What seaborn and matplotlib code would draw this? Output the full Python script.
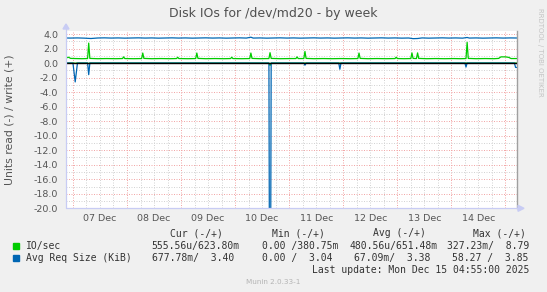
import matplotlib
matplotlib.use("Agg")
import matplotlib.pyplot as plt
from matplotlib.patches import Polygon, Rectangle
from matplotlib.lines import Line2D
import pandas as pd
import seaborn as sns

# ---------------- data ----------------
title = "Disk IOs for /dev/md20 - by week"
y_label = "Units read (-) / write (+)"
y_ticks = [4.0, 2.0, 0.0, -2.0, -4.0, -6.0, -8.0, -10.0, -12.0, -14.0,
           -16.0, -18.0, -20.0]
day_labels = ["07 Dec", "08 Dec", "09 Dec", "10 Dec", "11 Dec", "12 Dec",
              "13 Dec", "14 Dec"]
day_centers = ["2025-12-07 12:00", "2025-12-08 12:00", "2025-12-09 12:00",
               "2025-12-10 12:00", "2025-12-11 12:00", "2025-12-12 12:00",
               "2025-12-13 12:00", "2025-12-14 12:00"]
x_start = "2025-12-06 20:55"
x_end = "2025-12-15 04:55"

# IO/sec, write (+)
io_w_t = ["12-06 20:55", "12-06 22:00", "12-06 23:00", "12-07 01:00", "12-07 04:00",
          "12-07 06:30", "12-07 07:00", "12-07 07:30", "12-07 11:00", "12-07 15:00",
          "12-07 19:00", "12-07 22:00", "12-07 22:30", "12-07 23:00", "12-08 03:00",
          "12-08 06:30", "12-08 07:00", "12-08 07:30", "12-08 11:00", "12-08 15:00",
          "12-08 19:00", "12-08 22:00", "12-08 22:30", "12-08 23:00", "12-09 03:00",
          "12-09 06:30", "12-09 07:00", "12-09 07:30", "12-09 11:00", "12-09 15:00",
          "12-09 19:00", "12-09 22:00", "12-09 22:30", "12-09 23:00", "12-10 03:00",
          "12-10 06:30", "12-10 07:00", "12-10 07:30", "12-10 11:00", "12-10 15:00",
          "12-10 15:30", "12-10 16:00", "12-10 20:00", "12-11 01:00", "12-11 03:00",
          "12-11 03:30", "12-11 04:00", "12-11 06:30", "12-11 07:00", "12-11 07:30",
          "12-11 11:00", "12-11 15:00", "12-11 19:00", "12-11 23:00", "12-12 03:00",
          "12-12 06:30", "12-12 07:00", "12-12 07:30", "12-12 11:00", "12-12 15:00",
          "12-12 19:00", "12-12 23:00", "12-12 23:30", "12-13 00:00", "12-13 03:00",
          "12-13 06:00", "12-13 06:30", "12-13 07:00", "12-13 08:30", "12-13 09:00",
          "12-13 09:30", "12-13 13:00", "12-13 17:00", "12-13 21:00", "12-14 01:00",
          "12-14 04:00", "12-14 06:30", "12-14 07:00", "12-14 07:30", "12-14 11:00",
          "12-14 15:00", "12-14 19:00", "12-14 21:00", "12-14 22:00", "12-15 00:00",
          "12-15 01:30", "12-15 02:30", "12-15 04:55"]
io_w_v = [0.70, 0.80, 0.64, 0.62, 0.60,
          0.62, 2.75, 0.64, 0.60, 0.62,
          0.60, 0.62, 0.85, 0.62, 0.60,
          0.62, 1.38, 0.64, 0.60, 0.62,
          0.60, 0.62, 0.80, 0.62, 0.60,
          0.62, 1.38, 0.64, 0.60, 0.62,
          0.60, 0.62, 0.80, 0.62, 0.60,
          0.62, 1.38, 0.64, 0.60, 0.62,
          1.43, 0.64, 0.60, 0.62, 0.62,
          0.85, 0.62, 0.62, 1.60, 0.64,
          0.60, 0.62, 0.60, 0.62, 0.60,
          0.62, 1.38, 0.64, 0.60, 0.62,
          0.60, 0.62, 0.80, 0.62, 0.60,
          0.62, 1.40, 0.64, 0.62, 1.40,
          0.64, 0.60, 0.62, 0.60, 0.62,
          0.60, 0.62, 2.85, 0.64, 0.60,
          0.62, 0.60, 0.64, 0.85, 0.85,
          0.78, 0.62, 0.62]

# IO/sec, read (-)
io_r_t = ["12-06 20:55", "12-07 00:30", "12-07 01:00", "12-07 01:30", "12-07 06:30",
          "12-07 07:00", "12-07 07:30", "12-10 15:00", "12-10 15:30", "12-10 16:00",
          "12-15 04:55"]
io_r_v = [0.0, 0.0, -0.05, 0.0, 0.0,
          -0.08, 0.0, 0.0, -0.33, 0.0,
          0.0]

# Avg Req Size (KiB), write (+)
rs_w_t = ["12-06 20:55", "12-06 23:00", "12-07 02:00", "12-07 05:00", "12-07 08:00",
          "12-07 11:00", "12-07 14:00", "12-07 17:00", "12-07 20:00", "12-07 23:00",
          "12-08 02:00", "12-08 05:00", "12-08 08:00", "12-08 11:00", "12-08 14:00",
          "12-08 17:00", "12-08 20:00", "12-08 23:00", "12-09 02:00", "12-09 05:00",
          "12-09 08:00", "12-09 11:00", "12-09 14:00", "12-09 17:00", "12-09 20:00",
          "12-09 23:00", "12-10 02:00", "12-10 05:00", "12-10 07:00", "12-10 08:00",
          "12-10 11:00", "12-10 14:00", "12-10 17:00", "12-10 20:00", "12-10 23:00",
          "12-11 02:00", "12-11 05:00", "12-11 08:00", "12-11 11:00", "12-11 14:00",
          "12-11 17:00", "12-11 20:00", "12-11 23:00", "12-12 02:00", "12-12 05:00",
          "12-12 08:00", "12-12 11:00", "12-12 14:00", "12-12 17:00", "12-12 20:00",
          "12-12 23:00", "12-13 02:00", "12-13 05:00", "12-13 07:00", "12-13 09:00",
          "12-13 11:00", "12-13 14:00", "12-13 17:00", "12-13 20:00", "12-13 23:00",
          "12-14 02:00", "12-14 05:00", "12-14 07:00", "12-14 08:00", "12-14 11:00",
          "12-14 14:00", "12-14 17:00", "12-14 20:00", "12-14 23:00", "12-15 02:00",
          "12-15 04:55"]
rs_w_v = [3.45, 3.44, 3.46, 3.43, 3.38,
          3.45, 3.47, 3.44, 3.46, 3.43,
          3.45, 3.47, 3.44, 3.46, 3.43,
          3.45, 3.47, 3.44, 3.46, 3.43,
          3.45, 3.47, 3.44, 3.46, 3.43,
          3.45, 3.47, 3.44, 3.56, 3.44,
          3.46, 3.43, 3.45, 3.47, 3.44,
          3.46, 3.43, 3.45, 3.47, 3.44,
          3.46, 3.43, 3.45, 3.47, 3.44,
          3.46, 3.43, 3.45, 3.47, 3.44,
          3.46, 3.43, 3.45, 3.36, 3.38,
          3.46, 3.43, 3.45, 3.47, 3.44,
          3.46, 3.43, 3.52, 3.44, 3.46,
          3.43, 3.45, 3.47, 3.44, 3.46,
          3.45]

# Avg Req Size (KiB), read (-)
rs_r_t = ["12-06 20:55", "12-07 00:00", "12-07 01:00", "12-07 02:00", "12-07 06:30",
          "12-07 07:00", "12-07 07:30", "12-10 15:00", "12-10 15:30", "12-10 16:00",
          "12-11 06:30", "12-11 07:00", "12-11 07:30", "12-11 22:00", "12-11 22:30",
          "12-11 23:00", "12-14 06:00", "12-14 06:30", "12-14 07:00", "12-15 04:00",
          "12-15 04:30", "12-15 04:55"]
rs_r_v = [0.0, 0.0, -2.6, 0.0, 0.0,
          -1.6, 0.0, 0.0, -58.27, 0.0,
          0.0, -0.3, 0.0, 0.0, -0.85,
          0.0, 0.0, -0.55, 0.0, 0.0,
          -0.6, -0.6]

legend_names = ["IO/sec", "Avg Req Size (KiB)"]
legend_headers = ["Cur (-/+)", "Min (-/+)", "Avg (-/+)", "Max (-/+)"]
legend_cur = ["555.56u/623.80m", "677.78m/  3.40"]
legend_min = ["0.00 /380.75m", "0.00 /  3.04"]
legend_avg = ["480.56u/651.48m", "67.09m/  3.38"]
legend_max = ["327.23m/  8.79", "58.27 /  3.85"]
last_update = "Last update: Mon Dec 15 04:55:00 2025"
footer = "Munin 2.0.33-1"
side_text = "RRDTOOL / TOBI OETIKER"

colors = ["#00CC00", "#0066B3"]


def to_dt(lst):
    return pd.to_datetime(["2025-" + s for s in lst])


# ---------------- figure ----------------
sns.set_style("white")
plt.rcParams["font.family"] = ["DejaVu Sans"]

W, H = 547, 292
fig = plt.figure(figsize=(W / 100, H / 100), dpi=100, facecolor="#F0F0F0")


def fx(px):
    return px / W


def fy(py):
    return 1 - py / H


L, R, T, B = 66, 516.5, 31, 208.3
ax = fig.add_axes([fx(L), fy(B), fx(R) - fx(L), fy(T) - fy(B)])
ax.set_facecolor("white")

x0, x1 = pd.Timestamp(x_start), pd.Timestamp(x_end)

# grid
dots = (0, (1, 1.5))
minor_c = "#D4D4D4"
major_c = "#F2A8A8"
for t in pd.date_range(x0.ceil("6h"), x1, freq="6h"):
    is_major = t.hour == 0
    ax.axvline(t, color=major_c if is_major else minor_c, lw=0.72,
               ls=dots, zorder=1)
for v in range(-19, 5):
    ax.axhline(v, color=major_c if v % 2 == 0 else minor_c, lw=0.72,
               ls=dots, zorder=1)

series = [(io_w_t, io_w_v, colors[0]), (io_r_t, io_r_v, colors[0]),
          (rs_w_t, rs_w_v, colors[1]), (rs_r_t, rs_r_v, colors[1])]
for tt, vv, c in series:
    df = pd.DataFrame({"t": to_dt(tt), "v": vv})
    sns.lineplot(data=df, x="t", y="v", color=c, lw=0.9, ax=ax,
                 estimator=None, sort=True, zorder=3)

ax.axhline(0, color="black", lw=1.0, zorder=4)

ax.set_xlim(x0, x1)
ax.set_ylim(-20, 4.0 + 3.0 / 7.26)

ax.set_yticks(y_ticks)
ax.set_yticklabels([f"{v:.1f}" for v in y_ticks])
ax.set_xticks(pd.to_datetime(day_centers))
ax.set_xticklabels(day_labels)
ax.tick_params(axis="both", length=0, labelsize=6.8, colors="#555555")
ax.tick_params(axis="y", pad=5.5)
ax.tick_params(axis="x", pad=4)
ax.set_xlabel("")
ax.set_ylabel("")

ax.spines["top"].set_visible(False)
ax.spines["right"].set_color("#A0A0A0")
ax.spines["right"].set_linewidth(1.0)
ax.spines["left"].set_visible(False)
ax.spines["bottom"].set_visible(False)

# munin style axis lines with arrows
axis_c = "#C8CCF4"
fig.add_artist(Line2D([fx(L), fx(L)], [fy(B), fy(27)], color=axis_c, lw=0.9))
fig.add_artist(Line2D([fx(L), fx(520)], [fy(B), fy(B)], color=axis_c, lw=0.9))
fig.add_artist(Polygon([[fx(L - 3), fy(29)], [fx(L + 3), fy(29)], [fx(L), fy(24)]],
                       closed=True, color=axis_c, transform=fig.transFigure))
fig.add_artist(Polygon([[fx(518), fy(B - 3)], [fx(518), fy(B + 3)], [fx(524), fy(B)]],
                       closed=True, color=axis_c, transform=fig.transFigure))

# texts
fig.text(fx(273.5), fy(13), title, ha="center", va="center", fontsize=9.0,
         color="#505050")
fig.text(fx(10), fy(119.5), y_label, ha="center", va="center", rotation=90,
         fontsize=7.8, color="#555555")
fig.text(fx(540), fy(8), side_text, ha="center", va="top", rotation=270,
         fontsize=5.0, color="#C4C4C4")

mono = dict(family="DejaVu Sans Mono", fontsize=7.05, color="#333333",
            va="center", ha="left")
hdr_y, row_y = 233.4, [246.3, 258.4]
for txt, xs in zip(legend_headers, [170, 271.7, 373.3, 473.3]):
    fig.text(fx(xs), fy(hdr_y), txt, **mono)
for i in range(2):
    y = row_y[i]
    fig.add_artist(Rectangle((fx(13), fy(y + 2.5)), fx(5.5), 5.5 / H,
                             color=colors[i], transform=fig.transFigure))
    fig.text(fx(26), fy(y), legend_names[i], **mono)
    fig.text(fx(151.7), fy(y), legend_cur[i], **mono)
    fig.text(fx(261.7), fy(y), legend_min[i], **mono)
    fig.text(fx([349.3, 354.3][i]), fy(y), legend_avg[i], **mono)
    fig.text(fx([446.7, 452.3][i]), fy(y), legend_max[i], **mono)
fig.text(fx(311.7), fy(270), last_update, **mono)
fig.text(fx(273.5), fy(282), footer, ha="center", va="center", fontsize=5.2,
         color="#B4B4B4")

fig.savefig("out.png", dpi=100, facecolor=fig.get_facecolor())
